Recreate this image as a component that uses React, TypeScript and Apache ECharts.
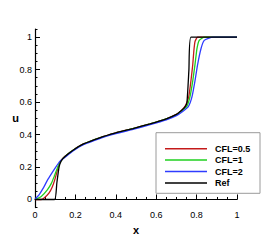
import React, { useEffect, useRef } from "react";
import * as echarts from "echarts";

// Solution profiles u(x)
const cfl05: [number, number][] = [
  [0, 0], [0.031, 0], [0.045, 0.009], [0.069, 0.039], [0.086, 0.079], [0.097, 0.118],
  [0.106, 0.158], [0.114, 0.198], [0.124, 0.232], [0.135, 0.25], [0.15, 0.267],
  [0.19, 0.305], [0.24, 0.342], [0.32, 0.38], [0.4, 0.41], [0.485, 0.437],
  [0.57, 0.466], [0.65, 0.497], [0.7, 0.524], [0.725, 0.548], [0.745, 0.578],
  [0.761, 0.632], [0.772, 0.731], [0.781, 0.831], [0.786, 0.91], [0.792, 0.972],
  [0.805, 1], [1, 1],
];
const cfl1: [number, number][] = [
  [0, 0], [0.031, 0.019], [0.061, 0.059], [0.081, 0.099], [0.094, 0.139], [0.106, 0.178],
  [0.119, 0.218], [0.135, 0.249], [0.15, 0.266], [0.19, 0.304], [0.24, 0.341],
  [0.32, 0.379], [0.4, 0.409], [0.485, 0.436], [0.57, 0.465], [0.65, 0.496],
  [0.7, 0.522], [0.725, 0.545], [0.752, 0.575], [0.767, 0.632], [0.781, 0.731],
  [0.792, 0.831], [0.802, 0.93], [0.813, 0.98], [0.838, 1], [1, 1],
];
const cfl2: [number, number][] = [
  [0, 0.003], [0.02, 0.029], [0.045, 0.079], [0.061, 0.118], [0.081, 0.158],
  [0.102, 0.198], [0.124, 0.236], [0.14, 0.252], [0.15, 0.262], [0.19, 0.3],
  [0.24, 0.337], [0.32, 0.375], [0.4, 0.405], [0.485, 0.432], [0.57, 0.461],
  [0.65, 0.491], [0.7, 0.516], [0.731, 0.542], [0.759, 0.572], [0.777, 0.632],
  [0.792, 0.731], [0.805, 0.831], [0.822, 0.93], [0.838, 0.98], [0.88, 1], [1, 1],
];
const ref: [number, number][] = [
  [0, 0], [0.097, 0], [0.108, 0.1], [0.119, 0.2], [0.13, 0.238], [0.15, 0.266],
  [0.19, 0.305], [0.24, 0.342], [0.32, 0.38], [0.4, 0.41], [0.485, 0.437],
  [0.57, 0.466], [0.65, 0.497], [0.7, 0.524], [0.725, 0.548], [0.74, 0.565],
  [0.752, 0.595], [0.762, 0.8], [0.772, 1], [1, 1],
];

const seriesNames = ["CFL=0.5", "CFL=1", "CFL=2", "Ref"];
const seriesData = [cfl05, cfl1, cfl2, ref];
const seriesColors = ["#c41a1a", "#1fd01f", "#2f3cff", "#000000"];

const yMajorTicks = [0, 0.2, 0.4, 0.6, 0.8, 1];
const xTickLabels = ["0", "0.2", "0.4", "0.6", "0.8", "1"];

export default function App() {
  const ref0 = useRef<HTMLDivElement>(null);
  useEffect(() => {
    if (!ref0.current) return;
    const chart = echarts.init(ref0.current, undefined, { renderer: "svg" });
    const font = "Liberation Sans";
    chart.setOption({
      animation: false,
      backgroundColor: "#ffffff",
      textStyle: { fontFamily: font },
      grid: { left: 35, right: 33, top: 29, bottom: 28 },
      xAxis: {
        type: "value",
        min: 0,
        max: 1,
        interval: 0.2,
        name: "x",
        nameLocation: "middle",
        nameGap: 11,
        nameTextStyle: { fontSize: 11, fontWeight: "bold", color: "#000", fontFamily: font },
        axisLine: { lineStyle: { color: "#000", width: 1.2 } },
        axisTick: { inside: true, length: 5, lineStyle: { color: "#000" } },
        minorTick: { show: true, splitNumber: 4, length: 2.5, lineStyle: { color: "#000" } },
        axisLabel: {
          fontSize: 9,
          color: "#000",
          margin: 2.5,
          formatter: (v: number) => xTickLabels[Math.round(v / 0.2)] ?? "",
        },
        splitLine: { show: false },
      },
      yAxis: [
        {
          type: "value",
          position: "left",
          min: -0.05,
          max: 1.05,
          interval: 0.05,
          axisLine: { show: true, lineStyle: { color: "#000", width: 1.2 } },
          axisTick: { show: true, inside: true, length: 2.5, lineStyle: { color: "#000" } },
          axisLabel: { show: false },
          splitLine: { show: false },
        },
        {
          type: "value",
          position: "left",
          offset: 0,
          min: -0.05,
          max: 1.05,
          name: "u",
          nameLocation: "middle",
          nameRotate: 0,
          nameGap: 16,
          nameMoveOverlap: false,
          nameTextStyle: { fontSize: 11, fontWeight: "bold", color: "#000", fontFamily: font },
          axisLine: { show: false },
          axisTick: { show: true, inside: true, length: 5, customValues: yMajorTicks, lineStyle: { color: "#000" } },
          axisLabel: { show: true, fontSize: 9, color: "#000", margin: 3, customValues: yMajorTicks },
          splitLine: { show: false },
        },
      ],
      legend: {
        data: seriesNames,
        orient: "vertical",
        left: 165,
        top: 143,
        padding: 0,
        itemGap: 0,
        itemWidth: 42,
        itemHeight: 1.5,
        icon: "rect",
        textStyle: {
          fontSize: 9,
          fontWeight: "bold",
          color: "#000",
          fontFamily: font,
          lineHeight: 11.4,
          padding: [0, 0, 0, 3],
        },
      },
      graphic: [
        {
          type: "rect",
          shape: { x: 156, y: 132.7, width: 104, height: 60.6 },
          style: { fill: "#ffffff", stroke: "#9a9a9a", lineWidth: 1 },
          z: 0,
          silent: true,
        },
      ],
      series: seriesData.map((d, i) => ({
        name: seriesNames[i],
        type: "line",
        data: d,
        yAxisIndex: 0,
        showSymbol: false,
        symbol: "none",
        smooth: 0.15,
        color: seriesColors[i],
        lineStyle: { color: seriesColors[i], width: 1.3 },
        z: 2 + i,
      })),
    });
    return () => chart.dispose();
  }, []);
  return <div ref={ref0} style={{ position: "fixed", left: 0, top: 0, width: 270, height: 240 }} />;
}
